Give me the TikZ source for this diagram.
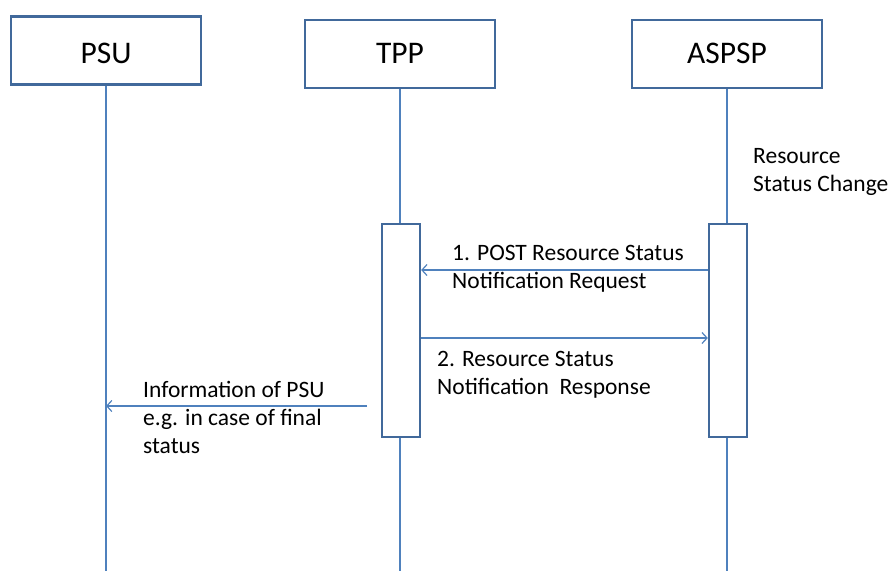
\documentclass[tikz,border=0pt]{standalone}
\usepackage{fontspec}
\setmainfont{Carlito}
\usetikzlibrary{arrows.meta}
\definecolor{boxblue}{HTML}{41699B}
\definecolor{lineblue}{HTML}{4F81BD}
\begin{document}
\begin{tikzpicture}[x=1pt,y=-1pt,
  actor/.style={draw=boxblue,line width=2.6pt,fill=white,minimum width=190pt,minimum height=68pt,inner sep=0pt,font=\fontsize{31.5}{36}\selectfont,text height=20pt,text depth=2pt},
  activ/.style={draw=boxblue,line width=2.4pt,fill=white,minimum width=38pt,minimum height=213pt,inner sep=0pt},
  life/.style={draw=lineblue,line width=2pt},
  msg/.style={draw=lineblue,line width=1.4pt,-{Straight Barb[length=5pt,width=11pt,line width=1.2pt]}},
  lbl/.style={anchor=base west,inner sep=0pt,align=left,font=\fontsize{23.5}{28}\selectfont}]
\useasboundingbox (0,0) rectangle (891,571);
% lifeline coordinates
\coordinate (psuB) at (106,571);
\coordinate (tppB) at (400,571);
\coordinate (aspB) at (727,571);
\node[actor,text height=25pt,text depth=0pt] (psu) at (106,50.5) {PSU};
\node[actor] (tpp) at (400,54) {TPP};
\node[actor] (asp) at (727,54) {ASPSP};
\draw[life] (psu.south) -- (psuB);
\draw[life] (tpp.south) -- (tppB);
\draw[life] (asp.south) -- (aspB);
\node[activ] (tppA) at (401,330.5) {};
\node[activ] (aspA) at (728,330.5) {};
\coordinate (m1s) at (aspA.west |- 0,270);
\coordinate (m1e) at (tppA.east |- 0,270);
\coordinate (m2s) at (tppA.east |- 0,338);
\coordinate (m2e) at (aspA.west |- 0,338);
\coordinate (m3s) at (367,406);
\coordinate (m3e) at (psu.south |- 0,406);
\draw[msg] (m1s) -- (m1e);
\draw[msg] (m2s) -- (m2e);
\draw[msg] (m3s) -- (m3e);
\node[lbl] (t0) at (753,191) {Resource\\Status Change};
\node[lbl] (t1) at (452,288) {1. POST Resource Status\\Notification Request};
\node[lbl] (t2) at (437,394) {2. Resource Status\\Notification\ \ Response};
\node[lbl] (t3) at (143,453) {Information of PSU\\e.g. in case of final\\status};
\end{tikzpicture}
\end{document}
